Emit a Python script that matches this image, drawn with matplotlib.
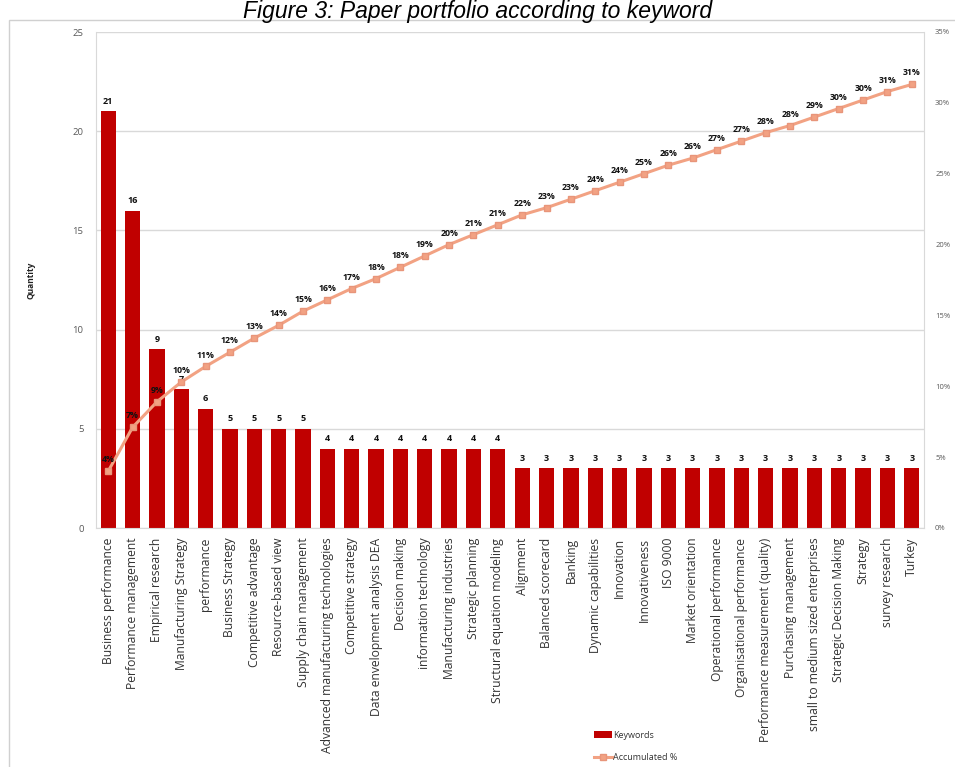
import matplotlib
matplotlib.use("Agg")
import matplotlib.pyplot as plt
from matplotlib.patches import Rectangle
from matplotlib.ticker import PercentFormatter

categories = [
    "Business performance", "Performance management", "Empirical research",
    "Manufacturing Strategy", "performance", "Business Strategy",
    "Competitive advantage", "Resource-based view", "Supply chain management",
    "Advanced manufacturing technologies", "Competitive strategy",
    "Data envelopment analysis DEA", "Decision making", "information technology",
    "Manufacturing industries", "Strategic planning", "Structural equation modeling",
    "Alignment", "Balanced scorecard", "Banking", "Dynamic capabilities",
    "Innovation", "Innovativeness", "ISO 9000", "Market orientation",
    "Operational performance", "Organisational performance",
    "Performance measurement (quality)", "Purchasing management",
    "small to medium sized enterprises", "Strategic Decision Making",
    "Strategy", "survey research", "Turkey",
]
keywords = [21, 16, 9, 7, 6, 5, 5, 5, 5, 4, 4, 4, 4, 4, 4, 4, 4,
            3, 3, 3, 3, 3, 3, 3, 3, 3, 3, 3, 3, 3, 3, 3, 3, 3]
accumulated = [4.0, 7.1, 8.9, 10.3, 11.4, 12.4, 13.4, 14.3, 15.3, 16.1, 16.9,
               17.6, 18.4, 19.2, 20.0, 20.7, 21.4, 22.1, 22.6, 23.2, 23.8,
               24.4, 25.0, 25.6, 26.1, 26.7, 27.3, 27.9, 28.4, 29.0, 29.6,
               30.2, 30.8, 31.3]
left_ticks = [0, 5, 10, 15, 20, 25]
right_ticks = [0, 5, 10, 15, 20, 25, 30, 35]

plt.rcParams['font.family'] = ['Open Sans', 'DejaVu Sans']

W, H = 955, 767
fig = plt.figure(figsize=(W / 100, H / 100), dpi=100)

# chart area border
fig.patches.append(Rectangle((9 / W, -0.1), 1.0, 1 - 20 / H + 0.1,
                             transform=fig.transFigure, fill=False,
                             edgecolor='#d0d0d0', linewidth=1.0))

ax = fig.add_axes([96 / W, 1 - 528 / H, 828 / W, 496 / H])
x = list(range(len(categories)))
bar_color = '#C00000'
line_color = '#F2A283'

bars = ax.bar(x, keywords, width=0.63, color=bar_color, zorder=2,
              label='Keywords')
ax.set_ylim(0, 25)
ax.set_xlim(-0.5, len(categories) - 0.5)
ax.set_yticks(left_ticks)
ax.yaxis.grid(True, color='#d9d9d9', linewidth=1.0, zorder=0)
ax.set_axisbelow(True)
ax.tick_params(axis='y', length=0, pad=9, labelsize=6.8, labelcolor='#595959')
ax.set_xticks(x)
ax.set_xticklabels(categories, rotation=90, fontsize=8.7, color='#333333',
                   va='top', ha='center')
ax.tick_params(axis='x', length=0, pad=7)
for s in ['left', 'bottom', 'right', 'top']:
    ax.spines[s].set_color('#d9d9d9')
ax.spines['top'].set_visible(False)

for xi, v in zip(x, keywords):
    ax.annotate(str(v), (xi, v), xytext=(0, 4), textcoords='offset points',
                ha='center', va='bottom', fontsize=6.5, fontweight='bold',
                color='#111111', zorder=5)

ax.set_ylabel('Quantity', fontsize=6, fontweight='bold', color='#222222')
ax.yaxis.set_label_coords(-61 / 828, 0.5)

ax2 = ax.twinx()
ax2.set_ylim(0, 35)
ax2.set_yticks(right_ticks)
ax2.yaxis.set_major_formatter(PercentFormatter(decimals=0))
ax2.tick_params(axis='y', length=0, pad=8, labelsize=5.5, labelcolor='#595959')
for s in ['left', 'bottom', 'right', 'top']:
    ax2.spines[s].set_visible(False)
line, = ax2.plot(x, accumulated, color=line_color, linewidth=2.2, marker='s',
                 markersize=5, markerfacecolor=line_color,
                 markeredgecolor='#E8957A', zorder=4, label='Accumulated %')
for xi, v in zip(x, accumulated):
    ax2.annotate(f"{round(v)}%", (xi, v), xytext=(0, 5),
                 textcoords='offset points', ha='center', va='bottom',
                 fontsize=6.3, fontweight='bold', color='#111111', zorder=6)

fig.legend(handles=[bars, line], loc='upper left',
           bbox_to_anchor=(590 / W, 1 - 727 / H), frameon=False, fontsize=6.5,
           labelspacing=1.5, handlelength=2.0, handletextpad=0.2,
           borderaxespad=0, labelcolor='#333333')

fig.text(0.5, 1 - 18 / H, "Figure 3: Paper portfolio according to keyword",
         ha='center', va='baseline', fontsize=16.5, style='italic',
         family=['Liberation Sans', 'DejaVu Sans'])

fig.savefig('out.png', dpi=100)
